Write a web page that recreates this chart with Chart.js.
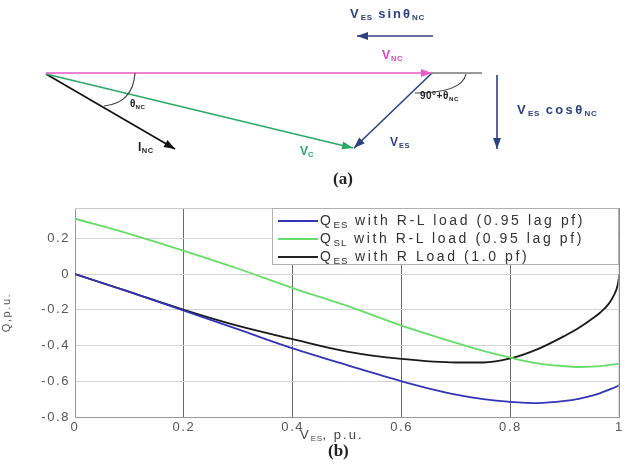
<!DOCTYPE html>
<html lang="en">
<head>
    <meta charset="UTF-8">
    <title>Q vs V_ES</title>
    <script src="https://cdn.jsdelivr.net/npm/chart.js"></script>
    <style>
        body {
            margin: 0;
            background: white;
            font-family: Arial, "Liberation Sans", sans-serif;
        }
        .page {
            position: relative;
            width: 626px;
            height: 475px;
            overflow: hidden;
        }
        canvas {
            position: absolute;
            left: 0;
        }
        #qChart { top: 0; }
        #phasorChart { top: 0; pointer-events: none; }
        .lbl {
            position: absolute;
            white-space: nowrap;
            line-height: 1;
            font-weight: bold;
        }
        .lbl sub {
            font-size: 0.62em;
            vertical-align: -0.3em;
            line-height: 0;
            letter-spacing: 0.6px;
        }
        .cap {
            position: absolute;
            font-family: "Liberation Serif", "DejaVu Serif", serif;
            font-weight: bold;
            font-size: 17px;
            color: #222;
        }
        /* legend box of plot (b) */
        .legend {
            position: absolute;
            left: 272px;
            top: 208px;
            width: 347px;
            height: 57px;
            border: 1px solid #b0b0b0;
            background: white;
            box-sizing: border-box;
        }
        .legend .row {
            position: absolute;
            left: 5px;
            height: 18px;
            font-size: 14px;
            color: #333;
            letter-spacing: 2.6px;
            white-space: nowrap;
            line-height: 18px;
        }
        .legend .row span.swatch {
            display: inline-block;
            width: 40px;
            height: 0;
            vertical-align: middle;
            margin-right: 2px;
        }
        .legend sub {
            font-size: 0.7em;
            vertical-align: -0.35em;
            line-height: 0;
            letter-spacing: 1px;
        }
    </style>
</head>
<body>
<div class="page">
    <canvas id="qChart" width="626" height="475"></canvas>
    <canvas id="phasorChart" width="626" height="190"></canvas>

    <!-- (a) phasor labels -->
    <div class="lbl" style="left:350px; top:7px; font-size:13px; color:#2e4282; letter-spacing:2px;">V<sub>ES</sub> sinθ<sub>NC</sub></div>
    <div class="lbl" style="left:382px; top:49px; font-size:12px; color:#e040c0; letter-spacing:1px;">V<sub>NC</sub></div>
    <div class="lbl" style="left:420px; top:91px; font-size:10px; color:#222; letter-spacing:0.5px;">90°+θ<sub>NC</sub></div>
    <div class="lbl" style="left:517px; top:103px; font-size:13px; color:#2e4282; letter-spacing:2.3px;">V<sub>ES</sub> cosθ<sub>NC</sub></div>
    <div class="lbl" style="left:390px; top:136px; font-size:12px; color:#2e4282; letter-spacing:1px;">V<sub>ES</sub></div>
    <div class="lbl" style="left:300px; top:145px; font-size:12px; color:#2aa866;">V<sub>C</sub></div>
    <div class="lbl" style="left:130px; top:99px; font-size:10px; color:#222;">θ<sub>NC</sub></div>
    <div class="lbl" style="left:138px; top:141px; font-size:12px; color:#222; letter-spacing:0.5px;">I<sub>NC</sub></div>
    <div class="cap" style="left:333px; top:169px;">(a)</div>

    <!-- (b) legend and axis title -->
    <div class="legend">
        <div class="row" style="top:2px;"><span class="swatch" style="border-top:2px solid #3434b8;"></span>Q<sub>ES</sub> with R-L load (0.95 lag pf)</div>
        <div class="row" style="top:20px;"><span class="swatch" style="border-top:2px solid #66dd66;"></span>Q<sub>SL</sub> with R-L load (0.95 lag pf)</div>
        <div class="row" style="top:38px;"><span class="swatch" style="border-top:2px solid #222;"></span>Q<sub>ES</sub> with R Load (1.0 pf)</div>
    </div>
    <div class="lbl" style="left:300px; top:428px; font-size:13px; font-weight:normal; color:#444; letter-spacing:2px;">V<sub>ES</sub>, p.u.</div>
    <div class="cap" style="left:328px; top:441px;">(b)</div>
</div>

<script>
    // ---- plot (b) data ----
    const vES = [0, 0.1, 0.2, 0.3, 0.4, 0.5, 0.6, 0.7, 0.75, 0.8, 0.85, 0.9, 0.925, 0.95, 0.965, 0.98, 0.99, 0.997, 1.0];
    const qEsRL = [0, -0.1, -0.205, -0.31, -0.416, -0.51, -0.6, -0.675, -0.7, -0.715, -0.722, -0.71, -0.698, -0.68, -0.666, -0.648, -0.636, -0.626, -0.62];
    const qSlRL = [0.31, 0.225, 0.13, 0.03, -0.078, -0.178, -0.288, -0.385, -0.43, -0.468, -0.5, -0.516, -0.52, -0.518, -0.515, -0.51, -0.505, -0.502, -0.5];
    const qEsR = [0, -0.1, -0.2, -0.29, -0.364, -0.434, -0.475, -0.495, -0.495, -0.472, -0.42, -0.345, -0.302, -0.25, -0.215, -0.168, -0.118, -0.06, 0.0];
    const xTicks = [0, 0.2, 0.4, 0.6, 0.8, 1];
    const xTickLabels = ['0', '0.2', '0.4', '0.6', '0.8', '1'];
    const yTicks = [-0.8, -0.6, -0.4, -0.2, 0, 0.2];
    const yTickLabels = ['-0.8', '-0.6', '-0.4', '-0.2', '0', '0.2'];

    // ---- plot (a) phasors: [x0, y0, x1, y1] in diagram units ----
    const phasorNames = ['V_NC', 'ext', 'V_C', 'I_NC', 'V_ES', 'sin', 'cos'];
    const phasorLines = [
        [46, 73, 432, 73],
        [432, 73, 482, 73],
        [46, 74, 353, 148],
        [46, 74, 175, 149],
        [432, 73, 354, 148],
        [433, 36, 357, 36],
        [497, 75, 497, 149]
    ];
    const phasorColors = ['#e85ac8', '#333', '#2aa866', '#111', '#2e4282', '#2e4282', '#2e4282'];
    const phasorArrow = [true, false, true, true, true, true, true];
    // angle arcs as quadratic curves: start, control, end
    const angleArcs = [
        [135, 73, 133, 103, 104, 106],
        [466, 74, 462, 93, 415, 93]
    ];

    const toPoints = (xs, ys) => xs.map((x, i) => ({ x: x, y: ys[i] }));

    // box around the plot area, like the original
    const boxPlugin = {
        id: 'box',
        beforeDraw(chart) {
            chart.ctx.letterSpacing = '1.6px';
        },
        afterDraw(chart) {
            const a = chart.chartArea;
            const ctx = chart.ctx;
            ctx.save();
            ctx.strokeStyle = '#c8c8c8';
            ctx.lineWidth = 1;
            ctx.beginPath();
            ctx.moveTo(a.left, a.top + 0.5);
            ctx.lineTo(a.right - 0.5, a.top + 0.5);
            ctx.lineTo(a.right - 0.5, a.bottom);
            ctx.stroke();
            ctx.restore();
        }
    };

    new Chart(document.getElementById('qChart'), {
        type: 'scatter',
        data: {
            datasets: [
                { label: 'Q_ES R-L', data: toPoints(vES, qEsRL), borderColor: '#3434b8' },
                { label: 'Q_SL R-L', data: toPoints(vES, qSlRL), borderColor: '#66dd66' },
                { label: 'Q_ES R', data: toPoints(vES, qEsR), borderColor: '#1a1a1a' }
            ].map(d => Object.assign(d, {
                showLine: true,
                pointRadius: 0,
                borderWidth: 1.8,
                cubicInterpolationMode: 'monotone',
                fill: false
            }))
        },
        options: {
            responsive: false,
            animation: false,
            layout: { padding: { top: 208, right: 2, left: 0, bottom: 0 } },
            plugins: {
                legend: { display: false },
                tooltip: { enabled: false }
            },
            scales: {
                x: {
                    type: 'linear',
                    min: 0,
                    max: 1,
                    afterBuildTicks: s => { s.ticks = xTicks.map(v => ({ value: v })); },
                    afterFit: s => { s.height = 58; },
                    grid: { color: '#6a6a6a', drawTicks: false, lineWidth: 1 },
                    border: { color: '#999' },
                    ticks: {
                        color: '#555',
                        font: { size: 13, family: 'Arial' },
                        padding: 3,
                        maxRotation: 0,
                        callback: (v, i) => xTickLabels[i]
                    }
                },
                y: {
                    type: 'linear',
                    min: -0.8,
                    max: 0.37,
                    afterBuildTicks: s => { s.ticks = yTicks.map(v => ({ value: v })); },
                    afterFit: s => { s.width = 75; },
                    grid: { color: '#d4d4d4', drawTicks: false, lineWidth: 1 },
                    border: { color: '#999' },
                    title: {
                        display: true,
                        text: 'Q,p.u.',
                        color: '#555',
                        font: { size: 11, family: 'Arial' },
                        padding: 0
                    },
                    ticks: {
                        color: '#555',
                        font: { size: 13, family: 'Arial' },
                        padding: 5,
                        callback: (v, i) => yTickLabels[i]
                    }
                }
            }
        },
        plugins: [boxPlugin]
    });

    // arrow heads and angle arcs for the phasor diagram
    const phasorPlugin = {
        id: 'phasor',
        afterDatasetsDraw(chart) {
            const ctx = chart.ctx;
            const sx = chart.scales.x, sy = chart.scales.y;
            ctx.save();
            phasorLines.forEach((l, i) => {
                if (!phasorArrow[i]) return;
                const x0 = sx.getPixelForValue(l[0]), y0 = sy.getPixelForValue(l[1]);
                const x1 = sx.getPixelForValue(l[2]), y1 = sy.getPixelForValue(l[3]);
                const ang = Math.atan2(y1 - y0, x1 - x0);
                const len = 11, half = 4;
                ctx.fillStyle = phasorColors[i];
                ctx.beginPath();
                ctx.moveTo(x1, y1);
                ctx.lineTo(x1 - len * Math.cos(ang) + half * Math.sin(ang), y1 - len * Math.sin(ang) - half * Math.cos(ang));
                ctx.lineTo(x1 - len * Math.cos(ang) - half * Math.sin(ang), y1 - len * Math.sin(ang) + half * Math.cos(ang));
                ctx.closePath();
                ctx.fill();
            });
            ctx.strokeStyle = '#444';
            ctx.lineWidth = 1.2;
            angleArcs.forEach(c => {
                ctx.beginPath();
                ctx.moveTo(sx.getPixelForValue(c[0]), sy.getPixelForValue(c[1]));
                ctx.quadraticCurveTo(sx.getPixelForValue(c[2]), sy.getPixelForValue(c[3]),
                    sx.getPixelForValue(c[4]), sy.getPixelForValue(c[5]));
                ctx.stroke();
            });
            ctx.restore();
        }
    };

    new Chart(document.getElementById('phasorChart'), {
        type: 'scatter',
        data: {
            datasets: phasorLines.map((l, i) => ({
                label: phasorNames[i],
                data: [{ x: l[0], y: l[1] }, { x: l[2], y: l[3] }],
                showLine: true,
                pointRadius: 0,
                borderColor: phasorColors[i],
                borderWidth: i === 1 ? 1 : 1.6
            }))
        },
        options: {
            responsive: false,
            animation: false,
            layout: { padding: 0 },
            plugins: { legend: { display: false }, tooltip: { enabled: false } },
            scales: {
                x: { type: 'linear', min: 0, max: 626, display: false },
                y: { type: 'linear', min: 0, max: 190, reverse: true, display: false }
            }
        },
        plugins: [phasorPlugin]
    });
</script>
</body>
</html>
